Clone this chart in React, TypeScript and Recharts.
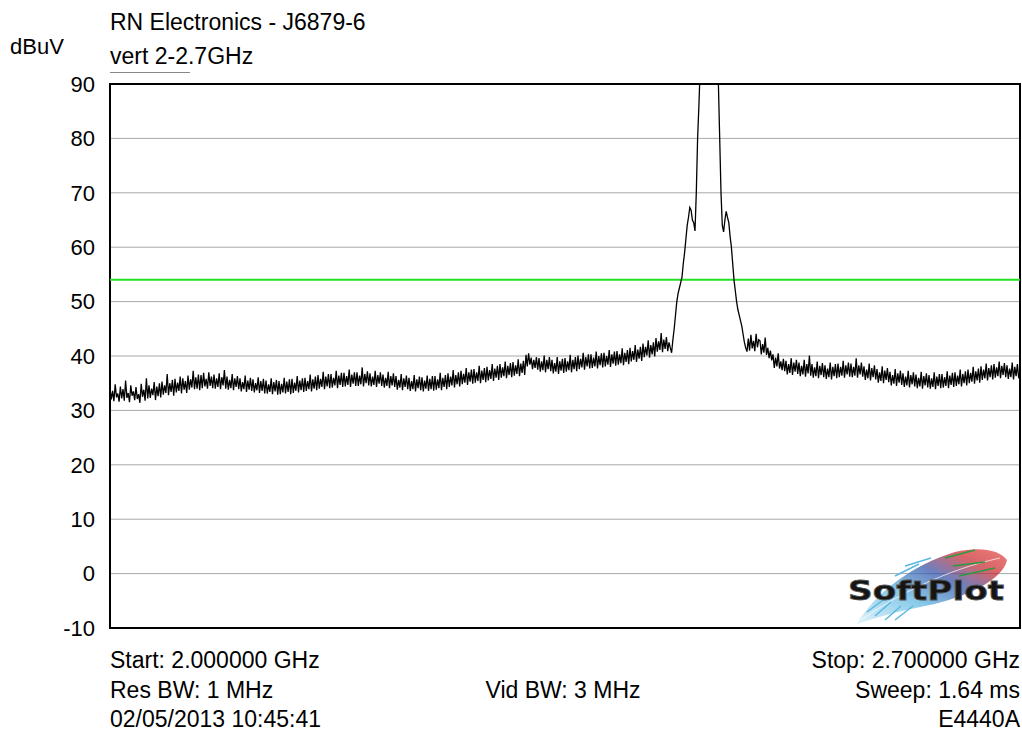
import React from "react";
import { LineChart, Line, XAxis, YAxis, CartesianGrid, ReferenceLine, ReferenceArea } from "recharts";

// Sweep grid of the analyser (MHz)
const sweepStartMHz = 2000;
const sweepStepMHz = 1;

// Trace levels (dBuV), one per sweep point 2000..2700 MHz (rows of 10 MHz)
const traceLevels: number[] = [
  34.1, 32.0, 33.6, 31.7, 34.8, 32.4, 33.1, 31.6, 34.4, 32.2,
  33.9, 31.8, 35.5, 32.3, 33.2, 31.5, 34.6, 32.7, 33.5, 31.9,
  34.3, 32.1, 33.0, 31.4, 34.9, 32.5, 33.8, 31.8, 35.9, 32.2,
  34.6, 32.3, 34.0, 32.8, 35.2, 31.9, 34.4, 32.6, 35.0, 32.4,
  35.3, 32.9, 34.6, 33.2, 36.7, 32.8, 35.0, 33.4, 35.6, 32.7,
  35.8, 33.3, 35.1, 33.6, 36.2, 33.1, 35.9, 33.8, 35.4, 33.2,
  36.4, 33.8, 35.7, 34.2, 37.3, 33.9, 36.1, 34.0, 36.6, 33.7,
  36.5, 34.1, 36.9, 34.4, 35.8, 34.0, 37.0, 34.5, 36.2, 34.1,
  36.6, 34.0, 35.9, 34.3, 36.8, 33.9, 36.1, 34.6, 37.4, 34.0,
  36.2, 33.8, 35.6, 34.1, 36.7, 33.7, 35.9, 34.3, 36.3, 33.9,
  35.9, 33.5, 35.2, 33.9, 36.4, 33.4, 35.5, 33.8, 36.0, 33.6,
  35.7, 33.3, 35.0, 33.7, 36.1, 33.2, 35.4, 33.6, 35.8, 33.1,
  35.5, 33.1, 34.8, 33.4, 35.9, 33.0, 35.2, 33.5, 35.6, 32.9,
  35.4, 33.0, 34.9, 33.3, 36.0, 33.1, 35.3, 33.4, 35.7, 33.0,
  35.8, 33.2, 35.1, 33.6, 36.3, 33.3, 35.5, 33.7, 35.9, 33.4,
  36.0, 33.6, 35.4, 33.9, 36.6, 33.5, 35.7, 34.0, 36.2, 33.7,
  36.5, 34.0, 35.8, 34.3, 37.1, 33.9, 36.2, 34.4, 36.7, 34.1,
  36.7, 34.2, 36.0, 34.6, 37.3, 34.1, 36.4, 34.7, 36.9, 34.3,
  36.9, 34.4, 36.3, 34.7, 37.5, 34.3, 36.6, 34.9, 37.0, 34.5,
  37.0, 34.5, 36.4, 34.8, 37.9, 34.4, 36.7, 35.0, 37.2, 34.6,
  36.8, 34.4, 36.2, 34.7, 37.3, 34.3, 36.5, 34.9, 37.0, 34.5,
  36.6, 34.2, 36.0, 34.5, 37.1, 34.1, 36.3, 34.6, 36.8, 34.3,
  36.3, 33.8, 35.6, 34.2, 36.7, 33.7, 35.9, 34.3, 36.4, 33.9,
  36.0, 33.6, 35.4, 33.9, 36.5, 33.5, 35.7, 34.1, 36.2, 33.7,
  36.1, 33.5, 35.5, 34.0, 36.4, 33.6, 35.8, 33.9, 36.3, 33.6,
  36.3, 33.8, 35.7, 34.1, 36.9, 33.7, 36.0, 34.3, 36.5, 33.9,
  36.8, 34.3, 36.2, 34.6, 37.4, 34.2, 36.5, 34.8, 37.0, 34.4,
  37.3, 34.8, 36.7, 35.1, 37.8, 34.7, 37.0, 35.3, 37.5, 34.9,
  37.6, 35.1, 37.0, 35.4, 38.2, 35.0, 37.3, 35.6, 37.8, 35.2,
  38.0, 35.5, 37.4, 35.8, 38.5, 35.4, 37.7, 36.0, 38.2, 35.6,
  38.5, 36.0, 37.9, 36.3, 39.0, 35.9, 38.2, 36.5, 38.7, 36.1,
  38.9, 36.4, 38.3, 36.7, 39.4, 36.3, 38.6, 36.9, 39.1, 36.5,
  40.2, 38.1, 40.5, 38.4, 39.7, 37.6, 39.3, 37.8, 39.8, 37.5,
  39.6, 37.1, 39.0, 37.4, 40.1, 37.0, 39.3, 37.6, 39.8, 37.2,
  39.3, 36.8, 38.7, 37.1, 39.8, 36.7, 39.0, 37.3, 39.5, 36.9,
  39.6, 37.1, 39.0, 37.4, 40.2, 37.0, 39.3, 37.6, 39.8, 37.2,
  40.1, 37.6, 39.5, 37.9, 40.6, 37.5, 39.8, 38.1, 40.3, 37.7,
  40.3, 37.8, 39.7, 38.1, 40.8, 37.7, 40.0, 38.3, 40.5, 37.9,
  40.6, 38.1, 40.0, 38.4, 41.1, 38.0, 40.3, 38.6, 40.8, 38.2,
  40.9, 38.4, 40.3, 38.7, 41.4, 38.3, 40.6, 38.9, 41.1, 38.5,
  41.5, 39.0, 40.9, 39.3, 42.0, 38.9, 41.2, 39.5, 41.7, 39.1,
  42.3, 39.8, 41.7, 40.1, 42.9, 39.7, 42.0, 40.3, 42.5, 39.9,
  43.3, 40.8, 42.7, 41.1, 44.2, 40.7, 43.0, 41.3, 43.5, 40.9,
  42.5, 41.5, 40.6, 43.0, 45.0, 47.5, 50.0, 51.5, 52.5, 53.5,
  54.5, 57.0, 59.0, 61.5, 64.0, 65.5, 67.3, 66.8, 65.0, 64.5,
  63.0, 70.0, 80.0, 86.0, 93.0, 100, 100, 100, 100, 100,
  100, 100, 100, 100, 100, 100, 100, 96.0, 90.0, 80.0,
  70.0, 64.0, 62.8, 65.0, 66.6, 65.5, 64.5, 62.0, 60.0, 57.0,
  54.0, 52.0, 50.0, 48.5, 47.5, 46.5, 45.5, 44.0, 42.5, 41.5,
  40.8, 43.2, 41.0, 43.9, 41.4, 42.8, 40.9, 44.1, 41.6, 43.0,
  42.8, 40.3, 42.2, 40.6, 43.4, 40.2, 41.5, 39.6, 41.0, 39.2,
  40.3, 37.8, 39.7, 38.1, 40.5, 37.7, 39.0, 37.4, 39.5, 37.2,
  39.1, 36.6, 38.5, 36.9, 39.6, 36.5, 38.8, 37.1, 39.3, 36.7,
  38.8, 36.3, 38.2, 36.6, 39.3, 36.2, 38.5, 36.8, 40.1, 36.4,
  38.5, 36.0, 37.9, 36.3, 39.0, 35.9, 38.2, 36.5, 38.7, 36.1,
  38.3, 35.8, 37.7, 36.1, 38.8, 35.7, 38.0, 36.3, 38.5, 35.9,
  38.6, 36.1, 38.0, 36.4, 39.1, 36.0, 38.3, 36.6, 38.8, 36.2,
  38.6, 36.1, 38.0, 36.4, 39.6, 36.0, 38.3, 36.6, 38.8, 36.2,
  38.1, 35.6, 37.5, 35.9, 38.6, 35.5, 37.8, 36.1, 38.3, 35.7,
  37.6, 35.1, 37.0, 35.4, 38.1, 35.0, 37.3, 35.6, 37.8, 35.2,
  37.1, 34.6, 36.5, 34.9, 37.6, 34.5, 36.8, 35.1, 37.3, 34.7,
  36.8, 34.3, 36.2, 34.6, 37.3, 34.2, 36.5, 34.8, 37.0, 34.4,
  36.6, 34.1, 36.0, 34.4, 37.1, 34.0, 36.3, 34.6, 36.8, 34.2,
  36.5, 34.0, 35.9, 34.3, 37.0, 33.9, 36.2, 34.5, 36.7, 34.1,
  36.7, 34.2, 36.1, 34.5, 37.2, 34.1, 36.4, 34.7, 36.9, 34.3,
  37.0, 34.5, 36.4, 34.8, 37.5, 34.4, 36.7, 35.0, 37.2, 34.6,
  37.5, 35.0, 36.9, 35.3, 38.0, 34.9, 37.2, 35.5, 37.7, 35.1,
  38.1, 35.6, 37.5, 35.9, 38.6, 35.5, 37.8, 36.1, 38.3, 35.7,
  38.5, 36.0, 37.9, 36.3, 39.0, 35.9, 38.2, 36.5, 38.7, 36.1,
  38.3, 35.8, 37.7, 36.1, 38.8, 35.7, 38.0, 36.3, 38.5, 35.9,
  36.6,
];

const yTicks = [-10, 0, 10, 20, 30, 40, 50, 60, 70, 80, 90];
const limitLine = 54;
const freqDomain: [number, number] = [2000, 2700];
const levelDomain: [number, number] = [-10, 90];

const titleLines = ["RN Electronics - J6879-6", "vert 2-2.7GHz"];
const unitLabel = "dBuV";
const footerLeft = ["Start: 2.000000 GHz", "Res BW: 1 MHz", "02/05/2013 10:45:41"];
const footerCenter = "Vid BW: 3 MHz";
const footerRight = ["Stop: 2.700000 GHz", "Sweep: 1.64 ms", "E4440A"];

const data = traceLevels.map((v, i) => ({ f: sweepStartMHz + i * sweepStepMHz, v }));

const FONT = "'Liberation Sans', Arial, Helvetica, sans-serif";
const FS = 22;
const FS_TEXT = 23;

const txt = (left: number, cy: number, s: string, align: "left" | "right" | "center" = "left", fs = FS_TEXT, w = 340) => {
  const style: React.CSSProperties = {
    position: "absolute",
    top: cy - 11,
    height: 22,
    lineHeight: "22px",
    fontSize: fs,
    fontFamily: FONT,
    color: "#000",
    whiteSpace: "nowrap",
    width: w,
    textAlign: align,
  };
  if (align === "left") style.left = left;
  else if (align === "right") style.left = left - w;
  else style.left = left - w / 2;
  return <div style={style} key={s}>{s}</div>;
};

const Logo = () => (
  <svg width={180} height={92} style={{ position: "absolute", left: 835, top: 536 }}>
    <defs>
      <linearGradient id="feather" x1="0" y1="1" x2="1" y2="0">
        <stop offset="0" stopColor="#d8f0fa" />
        <stop offset="0.35" stopColor="#5ab4e0" />
        <stop offset="0.6" stopColor="#3050a8" />
        <stop offset="0.8" stopColor="#c82830" />
        <stop offset="1" stopColor="#e84a40" />
      </linearGradient>
    </defs>
    <path d="M22 88 C 40 56, 80 28, 120 16 C 145 10, 165 14, 172 24 C 168 44, 130 62, 90 70 C 60 76, 40 82, 22 88 Z"
      fill="url(#feather)" opacity={0.72} />
    <path d="M26 84 C 60 60, 110 34, 165 22" stroke="#ffffff" strokeWidth={1} fill="none" opacity={0.7} />
    <path d="M40 80 L 56 66 M50 84 L 66 70 M32 76 L 48 64 M60 84 L 78 70 M70 30 L 96 22 M60 40 L 84 28"
      stroke="#5ab8e0" strokeWidth={1.5} />
    <path d="M118 30 L 150 26 M124 40 L 160 32 M110 22 L 140 14" stroke="#2a9a40" strokeWidth={1.5} />
    <text x={91} y={64} textAnchor="middle" fontFamily="'DejaVu Sans', sans-serif" fontWeight={900} fontSize={27}
      textLength={156} lengthAdjust="spacingAndGlyphs"
      fill="#151515" stroke="#555" strokeWidth={0.8}>SoftPlot</text>
  </svg>
);

export default function App() {
  return (
    <div style={{ position: "absolute", left: 0, top: 0, width: 1022, height: 731, background: "#fff", overflow: "hidden" }}>
      <LineChart
        width={1022}
        height={731}
        data={data}
        margin={{ top: 84, right: 2, bottom: 103, left: 50 }}
      >
        <CartesianGrid horizontal vertical={false} stroke="#a8a8a8" strokeWidth={1} />
        <XAxis dataKey="f" type="number" domain={freqDomain} hide allowDataOverflow />
        <YAxis
          type="number"
          domain={levelDomain}
          ticks={yTicks}
          width={60}
          allowDataOverflow
          axisLine={false}
          tickLine={false}
          tickMargin={9}
          interval={0}
          tick={{ fill: "#000", fontSize: FS, fontFamily: FONT }}
        />
        <ReferenceLine y={limitLine} stroke="#22e022" strokeWidth={2} ifOverflow="hidden" />
        <Line
          type="linear"
          dataKey="v"
          stroke="#000"
          strokeWidth={1.3}
          dot={false}
          isAnimationActive={false}
        />
        <ReferenceArea x1={freqDomain[0]} x2={freqDomain[1]} y1={levelDomain[0]} y2={levelDomain[1]}
          fill="none" stroke="#000" strokeWidth={2} fillOpacity={0} />
      </LineChart>
      {txt(10, 47, unitLabel, "left", FS)}
      {txt(110, 22, titleLines[0])}
      {txt(110, 56, titleLines[1])}
      <div style={{ position: "absolute", left: 110, top: 72, width: 80, borderTop: "1px solid #888" }} />
      {txt(110, 660, footerLeft[0])}
      {txt(110, 690, footerLeft[1])}
      {txt(110, 719, footerLeft[2])}
      {txt(563, 690, footerCenter, "center")}
      {txt(1020, 660, footerRight[0], "right")}
      {txt(1020, 690, footerRight[1], "right")}
      {txt(1020, 719, footerRight[2], "right")}
      <Logo />
    </div>
  );
}
